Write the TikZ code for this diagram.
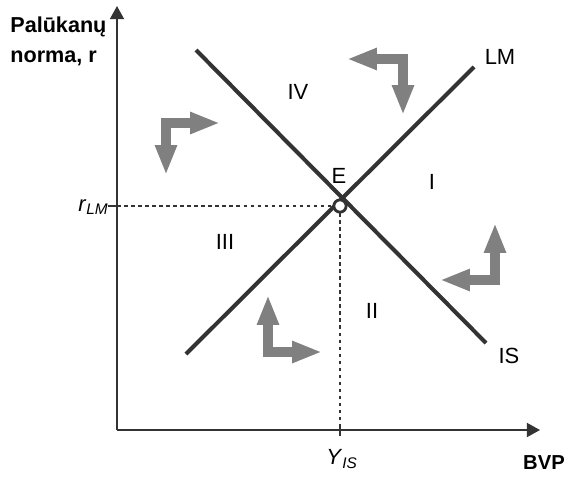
\documentclass[tikz,border=0pt]{standalone}
\usepackage{fontspec}
\setmainfont{Liberation Sans}
\usetikzlibrary{positioning, arrows.meta, calc}

\definecolor{linegray}{HTML}{333333}
\definecolor{flowgray}{HTML}{808080}

\begin{document}
\begin{tikzpicture}[
    x=0.02cm, y=-0.02cm,
    axis/.style={
        -{Triangle[width=8pt, length=7.5pt]},
        line width=1.1pt,
        draw=linegray
    },
    curve/.style={
        line width=2.3pt,
        draw=linegray
    },
    guide/.style={
        dashed,
        dash pattern=on 2pt off 2pt,
        line width=1.1pt,
        draw=linegray
    },
    tick/.style={
        line width=1.1pt,
        draw=linegray
    },
    flow/.style={
        {Triangle[width=11.5pt, length=17pt]}-{Triangle[width=11.5pt, length=17pt]},
        line width=5.7pt,
        draw=flowgray,
        line join=miter
    },
    label/.style={
        inner sep=0pt,
        font=\fontsize{12.5}{15}\selectfont
    },
    eq/.style={
        circle,
        draw=linegray,
        line width=1.6pt,
        fill=white,
        minimum size=7pt,
        inner sep=0pt
    }
]
    \useasboundingbox (0,0) rectangle (567,477);

    % Axes
    \coordinate (O) at (117,430);
    \coordinate (ytop) at (117,6);
    \coordinate (xend) at (540,430);
    \draw[axis] (O) -- (ytop);
    \draw[axis] (O) -- (xend);

    % Axis texts
    \node[label, anchor=north west, align=left, font=\fontsize{12.3}{17.5}\selectfont\bfseries] (ylab) at (10,16) {Palūkanų\\norma, r};
    \node[label, font=\fontsize{11.5}{14}\selectfont\bfseries] (xlab) at (544,463) {BVP};

    % IS and LM curves
    \coordinate (lmlow) at (186,354);
    \coordinate (lmhigh) at (474,67);
    \coordinate (ishigh) at (196,50);
    \coordinate (islow) at (486,343);
    \draw[curve] (lmlow) -- (lmhigh);
    \draw[curve] (ishigh) -- (islow);

    % Equilibrium
    \coordinate (rlm) at (117,206);
    \coordinate (yis) at (340,430);
    \draw[guide] (rlm) -- (340,206);
    \draw[guide] (340,206) -- (yis);
    \draw[tick] (108,206) -- (rlm);
    \draw[tick] (340,424) -- (340,436);
    \node[eq] (E) at (340,206) {};

    \node[label, anchor=east] (rlab) at (109,207) {\textit{r}\textsubscript{\textit{LM}}};
    \node[label] (ylab2) at (342,459) {\textit{Y}\textsubscript{\textit{IS}}};

    % Curve and region labels
    \node[label] (lmlab) at (500,57) {LM};
    \node[label] (islab) at (509,356) {IS};
    \node[label] (elab) at (339,176) {E};
    \node[label] (r1) at (432,182) {I};
    \node[label] (r2) at (372,311) {II};
    \node[label] (r3) at (225,242) {III};
    \node[label] (r4) at (298,92) {IV};

    % Adjustment arrows
    \coordinate (a1) at (166,175);
    \coordinate (b1) at (220,123);
    \draw[flow] (a1) |- (b1);
    \coordinate (a2) at (347,59);
    \coordinate (b2) at (403,115);
    \draw[flow] (a2) -| (b2);
    \coordinate (a3) at (440,280);
    \coordinate (b3) at (495,223);
    \draw[flow] (a3) -| (b3);
    \coordinate (a4) at (268,295);
    \coordinate (b4) at (322,352);
    \draw[flow] (a4) |- (b4);

\end{tikzpicture}
\end{document}
